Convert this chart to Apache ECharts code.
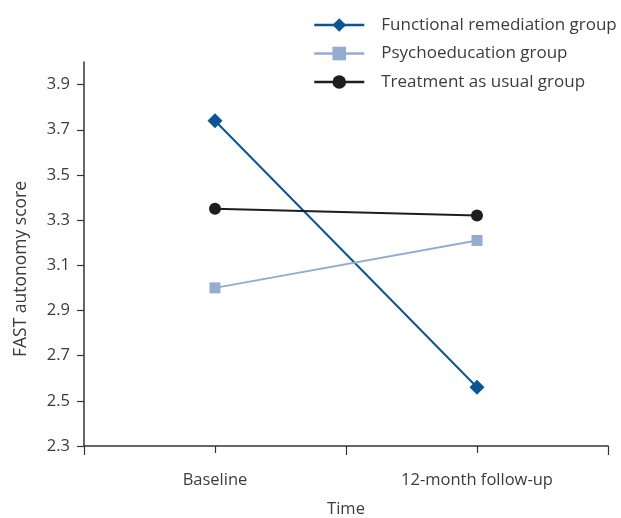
<!DOCTYPE html>
<html>
<head>
<meta charset="utf-8">
<script src="https://cdn.jsdelivr.net/npm/echarts@6/dist/echarts.min.js"></script>
<style>html,body{margin:0;padding:0;background:#fff;}#c{width:621px;height:518px;}</style>
</head>
<body>
<div id="c"></div>
<script>
var categories = ['Baseline', '12-month follow-up'];
var functionalRemediation = [3.74, 2.56];
var psychoeducation = [3.00, 3.21];
var treatmentAsUsual = [3.35, 3.32];
var yTicks = [2.3, 2.5, 2.7, 2.9, 3.1, 3.3, 3.5, 3.7, 3.9];

var chart = echarts.init(document.getElementById('c'), null, {renderer: 'canvas'});
var textColor = '#3c3c3c';
var axisColor = '#333333';
var labelFont = 'Open Sans';
chart.setOption({
  animation: false,
  backgroundColor: '#ffffff',
  legend: {
    orient: 'vertical',
    left: 313,
    top: 16.5,
    padding: 0,
    itemWidth: 50,
    itemHeight: 17,
    itemGap: 11.5,
    lineStyle: {width: 2.5},
    textStyle: {fontFamily: 'Open Sans', fontSize: 17, color: textColor, padding: [0, 0, 0, 12]},
    data: ['Functional remediation group', 'Psychoeducation group', 'Treatment as usual group']
  },
  grid: {left: 84, right: 13, top: 62, bottom: 72, containLabel: false, outerBoundsMode: 'none'},
  xAxis: [{
    type: 'category',
    data: categories,
    boundaryGap: true,
    name: 'Time',
    nameLocation: 'middle',
    nameGap: 55,
    nameTextStyle: {fontFamily: labelFont, fontSize: 16.5, color: textColor},
    axisLine: {lineStyle: {color: axisColor, width: 1.5}},
    axisTick: {show: true, length: 9, lineStyle: {color: axisColor, width: 1.2}},
    axisLabel: {margin: 26, fontFamily: labelFont, fontSize: 16.5, color: textColor}
  }, {
    type: 'category',
    data: categories,
    position: 'bottom',
    boundaryGap: true,
    axisLine: {show: false},
    axisTick: {show: true, alignWithLabel: true, length: 7, lineStyle: {color: axisColor, width: 1.2}},
    axisLabel: {show: false}
  }],
  yAxis: {
    type: 'value',
    min: 2.3,
    max: 4.0,
    name: 'FAST autonomy score',
    nameLocation: 'middle',
    nameGap: 54,
    nameTextStyle: {fontFamily: labelFont, fontSize: 17.5, color: textColor, padding: [0, 30, 0, 0]},
    splitLine: {show: false},
    axisLine: {show: true, lineStyle: {color: axisColor, width: 1.5}},
    axisTick: {show: true, length: 7, customValues: yTicks, lineStyle: {color: axisColor, width: 1.2}},
    axisLabel: {margin: 14, customValues: yTicks, fontFamily: labelFont, fontSize: 16.5, color: textColor,
      formatter: function (v) { return v.toFixed(1); }}
  },
  series: [{
    name: 'Functional remediation group',
    type: 'line',
    data: functionalRemediation,
    symbol: 'diamond',
    symbolSize: 15,
    color: '#0b5592',
    lineStyle: {width: 2, color: '#0b5592'},
    itemStyle: {color: '#0b5592'}
  }, {
    name: 'Psychoeducation group',
    type: 'line',
    data: psychoeducation,
    symbol: 'rect',
    symbolSize: 11,
    color: '#94acd2',
    lineStyle: {width: 2, color: '#94acd2'},
    itemStyle: {color: '#94acd2'}
  }, {
    name: 'Treatment as usual group',
    type: 'line',
    data: treatmentAsUsual,
    symbol: 'circle',
    symbolSize: 12,
    color: '#1e1e1e',
    lineStyle: {width: 2, color: '#1e1e1e'},
    itemStyle: {color: '#1e1e1e'}
  }]
});
</script>
</body>
</html>
